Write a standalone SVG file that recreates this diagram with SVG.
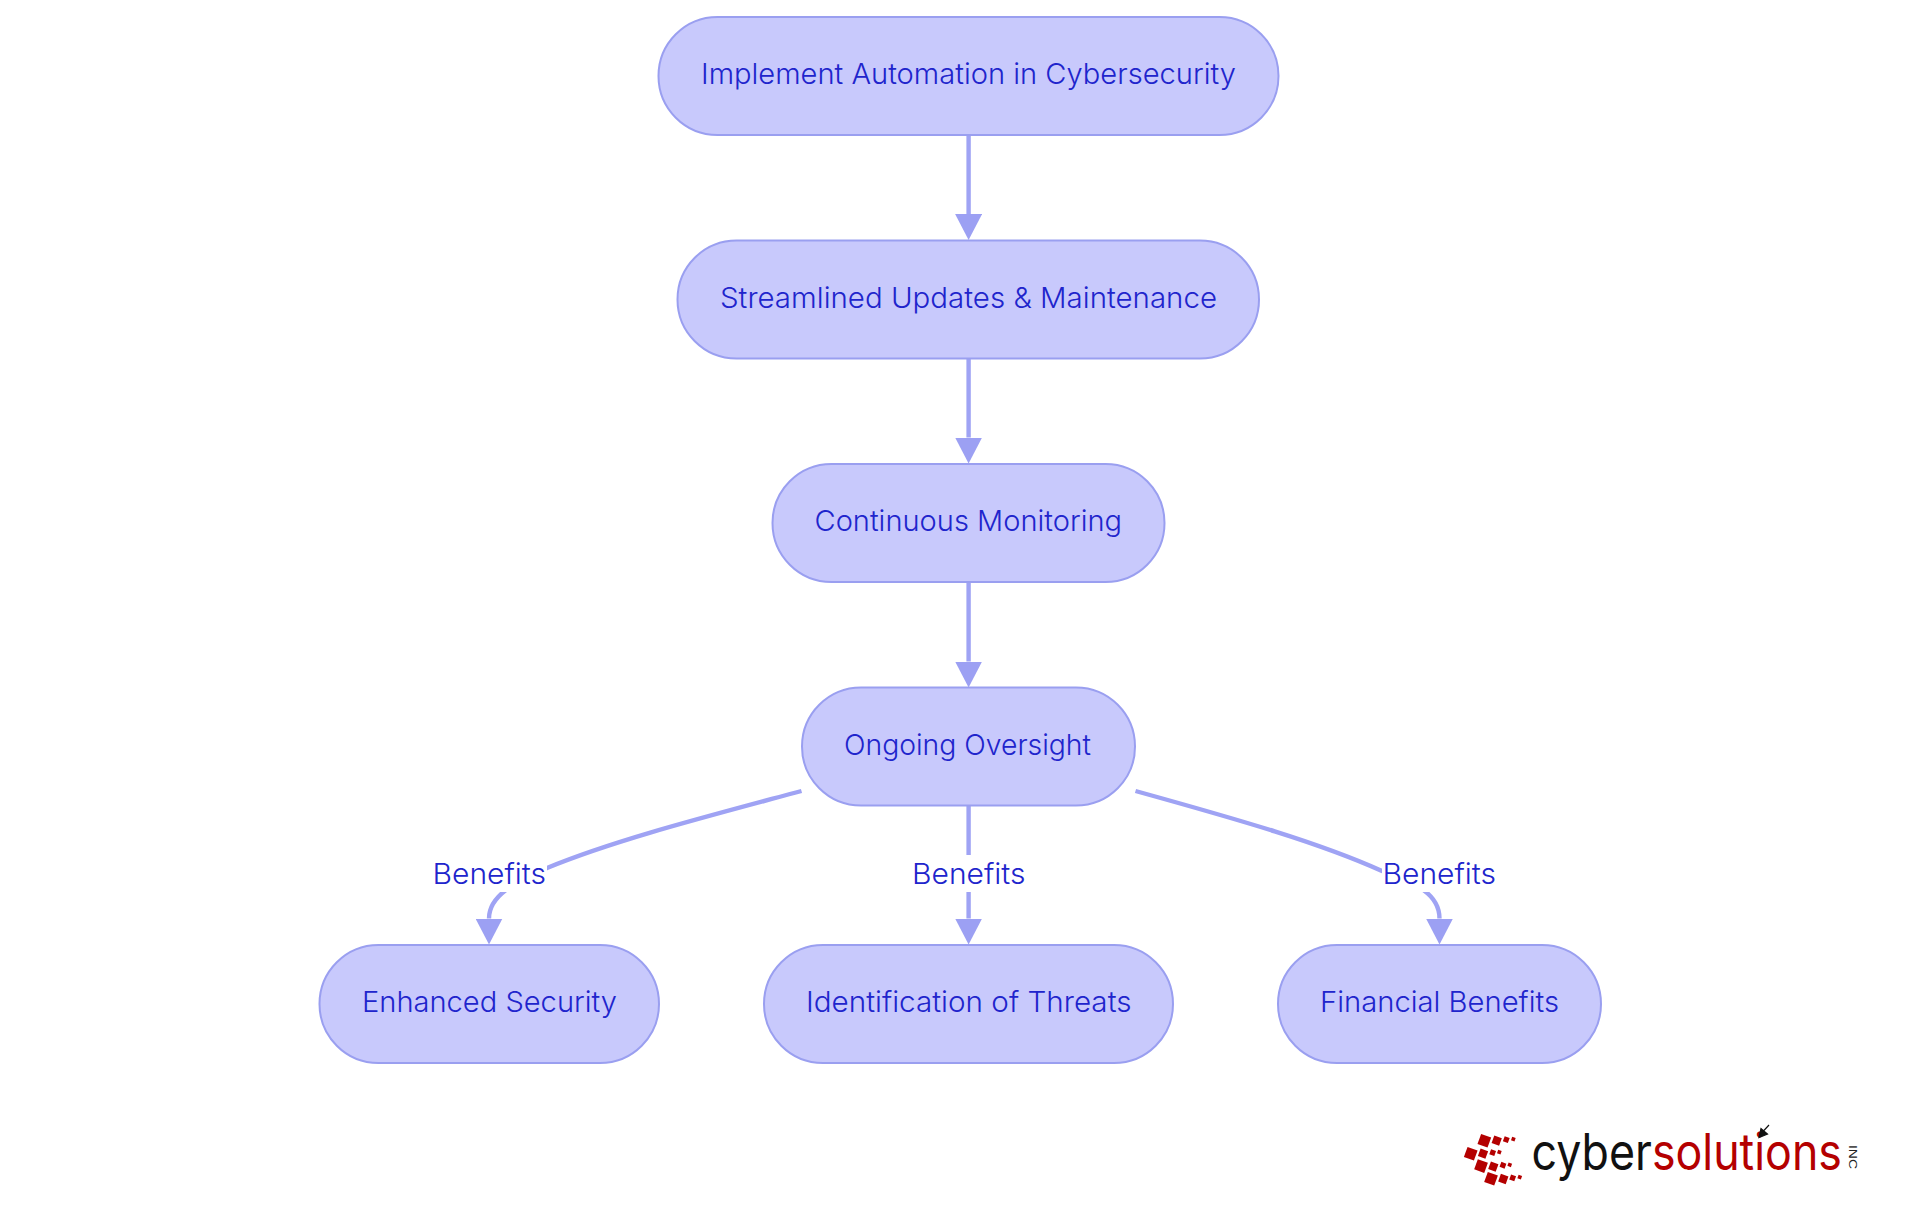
<svg xmlns="http://www.w3.org/2000/svg" width="1920" height="1215" viewBox="0 0 1920 1215">
<style>
.n{fill:#c8c9fc;stroke:#9a9ff0;stroke-width:2}
.t{font-family:Inter,"Noto Sans",sans-serif;font-size:29px;font-weight:300;fill:#2024cc}
.e{fill:none;stroke:#9fa3f4;stroke-width:4.4;marker-end:url(#arrow)}
.lb{fill:#fff}
.sq{fill:#b40000}
.lg{font-family:Inter,"Liberation Sans",sans-serif;font-size:51px;font-weight:400}
</style>
<defs>
<marker id="arrow" markerUnits="userSpaceOnUse" markerWidth="27" markerHeight="27" viewBox="0 0 27 27" refX="0" refY="13.5" orient="auto"><path d="M0,0L26,13.5L0,27Z" fill="#9ca0f3"/></marker>
</defs>
<rect width="1920" height="1215" fill="#fff"/>
<g id="connectors">
<path class="e" d="M968.6,135V214"/>
<path class="e" d="M968.6,358.5V437.5"/>
<path class="e" d="M968.6,582V661.5"/>
<path class="e" d="M968.6,806V918.5"/>
<path class="e" d="M801.5,791C705,817 615,840 547,868C522,880 489,893 489,918.5"/>
<path class="e" d="M1135.5,791C1240,820 1320,843 1382,871C1407,881 1439.5,890 1439.5,918.5"/>
<g id="edge-labels">
<rect class="lb" x="432" y="855" width="115" height="37"/>
<text class="t" x="432.5" y="884" textLength="113.5" lengthAdjust="spacingAndGlyphs">Benefits</text>
<rect class="lb" x="911" y="855" width="115" height="37"/>
<text class="t" x="912" y="884" textLength="113.5" lengthAdjust="spacingAndGlyphs">Benefits</text>
<rect class="lb" x="1382" y="855" width="115" height="37"/>
<text class="t" x="1382.5" y="884" textLength="113.5" lengthAdjust="spacingAndGlyphs">Benefits</text>
</g>
</g>
<g id="n1"><rect class="n" x="658.5" y="17" width="620" height="118" rx="59"/><text class="t" x="701" y="84" textLength="535" lengthAdjust="spacingAndGlyphs">Implement Automation in Cybersecurity</text></g>
<g id="n2"><rect class="n" x="677.5" y="240.5" width="581.5" height="118" rx="59"/><text class="t" x="720" y="308" textLength="497" lengthAdjust="spacingAndGlyphs">Streamlined Updates &amp; Maintenance</text></g>
<g id="n3"><rect class="n" x="772.5" y="464" width="392" height="118" rx="59"/><text class="t" x="814.5" y="531" textLength="307.5" lengthAdjust="spacingAndGlyphs">Continuous Monitoring</text></g>
<g id="n4"><rect class="n" x="802" y="687.5" width="333" height="118" rx="59"/><text class="t" x="844" y="755" textLength="247" lengthAdjust="spacingAndGlyphs">Ongoing Oversight</text></g>
<g id="n5"><rect class="n" x="319.5" y="945" width="339.5" height="118" rx="59"/><text class="t" x="362" y="1012" textLength="255" lengthAdjust="spacingAndGlyphs">Enhanced Security</text></g>
<g id="n6"><rect class="n" x="764" y="945" width="409" height="118" rx="59"/><text class="t" x="806" y="1012" textLength="325.5" lengthAdjust="spacingAndGlyphs">Identification of Threats</text></g>
<g id="n7"><rect class="n" x="1278" y="945" width="323" height="118" rx="59"/><text class="t" x="1320" y="1012" textLength="239" lengthAdjust="spacingAndGlyphs">Financial Benefits</text></g>
<g id="logo">
<g class="sq">
<rect x="-5.3" y="-5.3" width="10.7" height="10.7" transform="translate(1484.3 1140.7) rotate(20)"/>
<rect x="-4" y="-4" width="8" height="8" transform="translate(1496.7 1140.7) rotate(20)"/>
<rect x="-2.7" y="-2.7" width="5.3" height="5.3" transform="translate(1506.3 1139.7) rotate(20)"/>
<rect x="-1.8" y="-1.8" width="3.7" height="3.7" transform="translate(1513.3 1139) rotate(20)"/>
<rect x="-5.3" y="-5.3" width="10.7" height="10.7" transform="translate(1470.7 1153.7) rotate(20)"/>
<rect x="-4" y="-4" width="8" height="8" transform="translate(1483 1153.7) rotate(20)"/>
<rect x="-2.7" y="-2.7" width="5.3" height="5.3" transform="translate(1492.7 1152.7) rotate(20)"/>
<rect x="-1.8" y="-1.8" width="3.7" height="3.7" transform="translate(1499.3 1152) rotate(20)"/>
<rect x="-5.3" y="-5.3" width="10.7" height="10.7" transform="translate(1481 1166) rotate(20)"/>
<rect x="-4" y="-4" width="8" height="8" transform="translate(1493.3 1166.7) rotate(20)"/>
<rect x="-2.7" y="-2.7" width="5.3" height="5.3" transform="translate(1503 1165.3) rotate(20)"/>
<rect x="-1.8" y="-1.8" width="3.7" height="3.7" transform="translate(1509.7 1164.7) rotate(20)"/>
<rect x="-5.3" y="-5.3" width="10.7" height="10.7" transform="translate(1491 1178.7) rotate(20)"/>
<rect x="-4" y="-4" width="8" height="8" transform="translate(1503.3 1179) rotate(20)"/>
<rect x="-2.7" y="-2.7" width="5.3" height="5.3" transform="translate(1512.7 1178) rotate(20)"/>
<rect x="-1.8" y="-1.8" width="3.7" height="3.7" transform="translate(1519.7 1177) rotate(20)"/>
</g>
<text class="lg" x="1531.5" y="1170" textLength="310.5" lengthAdjust="spacingAndGlyphs" fill="#111">cyber<tspan fill="#b40000">solutions</tspan></text>
<text x="0" y="0" transform="translate(1848.5 1145) rotate(90)" font-family="Liberation Sans,Arial,sans-serif" font-size="11" textLength="24" lengthAdjust="spacingAndGlyphs" fill="#222">INC</text>
<path d="M1769,1125L1763,1131.5M1759,1137.5L1761,1128.5L1767.5,1134Z" fill="#111" stroke="#111" stroke-width="1.2"/>
</g>
</svg>
